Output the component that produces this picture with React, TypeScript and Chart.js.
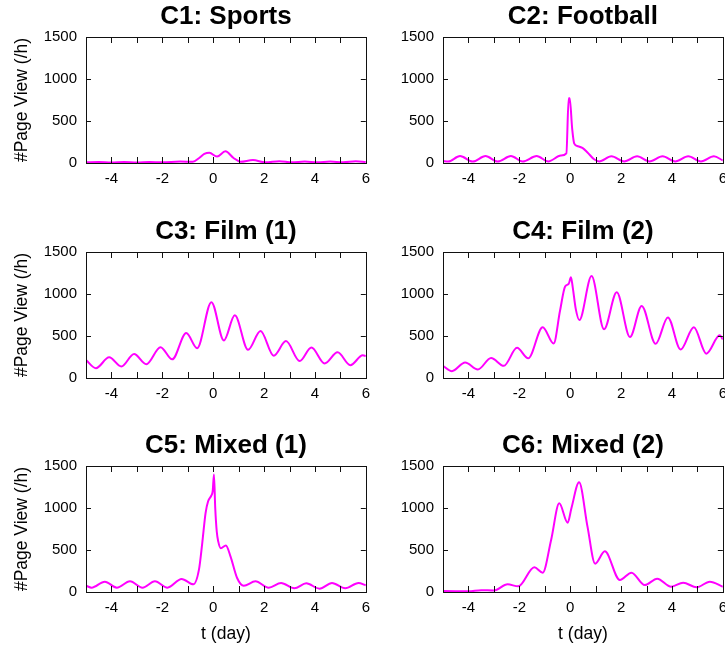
import React, { useEffect, useRef } from 'react';
import { Chart, registerables } from 'chart.js';

Chart.register(...registerables);

// ---- axis ticks ----
const xTickLabels = [-4, -2, 0, 2, 4, 6];
const xTickMarks = [-4, -3, -2, -1, 0, 1, 2, 3, 4, 5];
const yTickValues = [0, 500, 1000, 1500];

// ---- titles ----
const panelTitles = ['C1: Sports', 'C2: Football', 'C3: Film (1)', 'C4: Film (2)', 'C5: Mixed (1)', 'C6: Mixed (2)'];
const xAxisTitle = 't (day)';
const yAxisTitle = '#Page View (/h)';

// ---- series (t in days, page views per hour) ----
const c1T = [-5, -4.5, -4, -3.5, -3, -2.5, -2, -1.3, -0.8, -0.55, -0.35, -0.15, 0.15, 0.48, 0.8, 1.07, 1.56, 2.05, 2.6, 3.1, 3.6, 4.1, 4.6, 5.1, 5.6, 6];
const c1V = [8, 12, 6, 12, 6, 12, 8, 18, 14, 60, 108, 122, 76, 140, 60, 15, 35, 8, 22, 8, 18, 8, 18, 8, 20, 12];

const c2T = [-5, -4.8, -4.33, -3.83, -3.33, -2.85, -2.33, -1.87, -1.32, -0.86, -0.37, -0.15, -0.06, -0.02, 0.08, 0.16, 0.3, 0.48, 0.68, 0.94, 1.14, 1.62, 2.12, 2.63, 3.12, 3.63, 4.13, 4.64, 5.14, 5.65, 6];
const c2V = [24, 18, 82, 18, 82, 18, 82, 18, 82, 18, 88, 115, 770, 770, 400, 230, 200, 180, 125, 44, 18, 80, 18, 80, 18, 80, 18, 80, 18, 80, 30];

const c3T = [-5, -4.61, -4.09, -3.61, -3.11, -2.63, -2.07, -1.61, -1.06, -0.63, -0.07, 0.42, 0.85, 1.37, 1.86, 2.38, 2.86, 3.4, 3.86, 4.38, 4.89, 5.39, 5.88, 6];
const c3V = [214, 117, 246, 137, 286, 165, 367, 222, 536, 355, 903, 447, 746, 335, 560, 266, 439, 201, 363, 173, 306, 153, 270, 262];

const c4T = [-5, -4.65, -4.13, -3.63, -3.11, -2.61, -2.09, -1.65, -1.08, -0.65, -0.4, -0.2, -0.06, 0.03, 0.1, 0.22, 0.36, 0.84, 1.33, 1.83, 2.35, 2.81, 3.36, 3.84, 4.34, 4.86, 5.35, 5.88, 6];
const c4V = [145, 81, 185, 101, 238, 145, 359, 234, 605, 411, 800, 1090, 1120, 1200, 1080, 820, 690, 1213, 580, 1020, 488, 858, 407, 721, 339, 605, 290, 508, 459];

const c5T = [-5, -4.78, -4.26, -3.79, -3.27, -2.78, -2.29, -1.8, -1.24, -0.78, -0.56, -0.43, -0.3, -0.2, -0.07, -0.02, 0.03, 0.08, 0.14, 0.2, 0.3, 0.5, 0.68, 0.94, 1.2, 1.66, 2.18, 2.67, 3.19, 3.66, 4.18, 4.67, 5.19, 5.71, 6];
const c5V = [75, 52, 123, 52, 127, 52, 127, 52, 155, 91, 266, 583, 940, 1080, 1150, 1200, 1400, 1000, 720, 600, 520, 555, 425, 167, 75, 127, 52, 107, 44, 103, 40, 107, 44, 107, 79];

const c6T = [-5, -4.5, -4, -3.5, -3, -2.46, -2.04, -1.41, -1.08, -0.75, -0.43, -0.1, 0.05, 0.35, 0.68, 0.98, 1.36, 1.95, 2.41, 2.93, 3.42, 3.97, 4.44, 4.97, 5.49, 6];
const c6V = [12, 10, 8, 22, 18, 91, 67, 294, 230, 620, 1056, 825, 1000, 1306, 778, 337, 484, 143, 230, 83, 159, 63, 111, 56, 123, 63];

const FONT = "'Liberation Sans', Arial, Helvetica, sans-serif";

const framePlugin = {
  id: 'gnuplotFrame',
  afterDatasetsDraw(chart: any) {
    const { ctx, chartArea: a, scales } = chart;
    const xs = scales.x;
    const ys = scales.y;
    ctx.save();
    ctx.strokeStyle = '#111';
    ctx.lineWidth = 1;
    ctx.beginPath();
    for (const v of xTickMarks) {
      const px = Math.round(xs.getPixelForValue(v)) + 0.5;
      ctx.moveTo(px, a.bottom);
      ctx.lineTo(px, a.bottom - 6);
      ctx.moveTo(px, a.top);
      ctx.lineTo(px, a.top + 6);
    }
    for (const v of yTickValues) {
      const py = Math.round(ys.getPixelForValue(v)) + 0.5;
      ctx.moveTo(a.left, py);
      ctx.lineTo(a.left + 5, py);
      ctx.moveTo(a.right, py);
      ctx.lineTo(a.right - 5, py);
    }
    ctx.stroke();
    ctx.strokeRect(
      Math.round(a.left) + 0.5,
      Math.round(a.top) + 0.5,
      Math.round(a.right - a.left),
      Math.round(a.bottom - a.top)
    );
    ctx.restore();
  },
};

const CANVAS_W = 377;
const PLOT_LEFT = 86;
const PLOT_BOTTOM = 163;

type PanelProps = {
  t: number[];
  v: number[];
  title: string;
  left: number;
  top: number;
  height: number;
  showXTitle: boolean;
  showYTitle: boolean;
};

function Panel({ t, v, title, left, top, height, showXTitle, showYTitle }: PanelProps) {
  const ref = useRef<HTMLCanvasElement>(null);
  useEffect(() => {
    if (!ref.current) return;
    const chart = new Chart(ref.current, {
      type: 'line',
      data: {
        datasets: [
          {
            data: t.map((tt, i) => ({ x: tt, y: v[i] })),
            borderColor: '#ff00ff',
            borderWidth: 2,
            pointRadius: 0,
            cubicInterpolationMode: 'monotone',
            fill: false,
          },
        ],
      },
      options: {
        animation: false,
        responsive: false,
        maintainAspectRatio: false,
        layout: { padding: 0 },
        plugins: {
          legend: { display: false },
          tooltip: { enabled: false },
          title: {
            display: true,
            text: title,
            fullSize: false,
            color: '#000',
            font: { family: FONT, size: 26, weight: 'bold', lineHeight: 1 },
            padding: { top: 4, bottom: 7 },
          },
        },
        scales: {
          x: {
            type: 'linear',
            min: -5,
            max: 6,
            afterBuildTicks: (s: any) => {
              s.ticks = xTickLabels.map((value) => ({ value }));
            },
            afterFit: (s: any) => {
              s.height = height - PLOT_BOTTOM;
            },
            grid: { display: false, drawTicks: false },
            border: { display: false },
            ticks: {
              color: '#000',
              font: { family: FONT, size: 15 },
              padding: 7,
              maxRotation: 0,
              autoSkip: false,
              callback: (val: any) => String(val),
            },
            title: {
              display: showXTitle,
              text: xAxisTitle,
              color: '#000',
              font: { family: FONT, size: 17.5 },
              padding: { top: 0, bottom: 4 },
            },
          },
          y: {
            type: 'linear',
            min: 0,
            max: 1500,
            afterBuildTicks: (s: any) => {
              s.ticks = yTickValues.map((value) => ({ value }));
            },
            afterFit: (s: any) => {
              s.width = PLOT_LEFT;
            },
            grid: { display: false, drawTicks: false },
            border: { display: false },
            ticks: {
              color: '#000',
              font: { family: FONT, size: 15 },
              padding: 9,
              callback: (val: any) => String(val),
            },
            title: {
              display: showYTitle,
              text: yAxisTitle,
              color: '#000',
              font: { family: FONT, size: 17.5 },
              padding: { top: 12, bottom: 0 },
            },
          },
        },
      },
      plugins: [framePlugin],
    } as any);
    return () => chart.destroy();
  }, []);
  return (
    <canvas
      ref={ref}
      width={CANVAS_W}
      height={height}
      style={{ position: 'absolute', left, top, width: CANVAS_W, height }}
    />
  );
}

export default function App() {
  const rows = [
    { top: 0, height: 215 },
    { top: 215, height: 214 },
    { top: 429, height: 220 },
  ];
  const series = [
    [c1T, c1V],
    [c2T, c2V],
    [c3T, c3V],
    [c4T, c4V],
    [c5T, c5V],
    [c6T, c6V],
  ];
  return (
    <div
      style={{
        position: 'fixed',
        left: 0,
        top: 0,
        width: 725,
        height: 649,
        overflow: 'hidden',
        background: '#fff',
      }}
    >
      {series.map(([t, v], i) => {
        const row = rows[Math.floor(i / 2)];
        const col = i % 2;
        return (
          <Panel
            key={i}
            t={t}
            v={v}
            title={panelTitles[i]}
            left={col === 0 ? 0 : 357}
            top={row.top}
            height={row.height}
            showXTitle={i >= 4}
            showYTitle={col === 0}
          />
        );
      })}
    </div>
  );
}
